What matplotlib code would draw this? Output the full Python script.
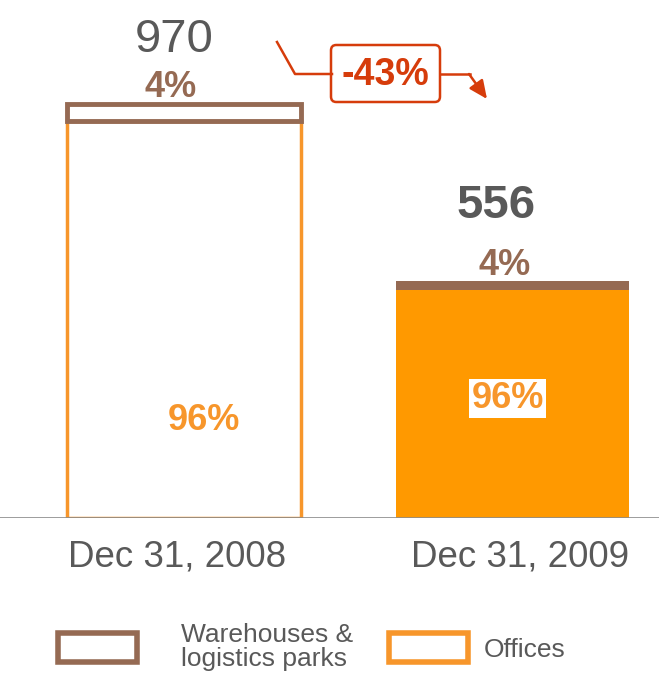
import matplotlib.pyplot as plt
from matplotlib.patches import Rectangle, FancyBboxPatch

plt.rcParams['font.family'] = ['Liberation Sans', 'DejaVu Sans']

dates = ["Dec 31, 2008", "Dec 31, 2009"]
totals = [970, 556]
warehouse_share = [4, 4]
office_share = [96, 96]
change_label = "-43%"
series = ["Warehouses &\nlogistics parks", "Offices"]

BROWN = "#956A53"
ORANGE = "#FF9900"
ORANGE_EDGE = "#F7962B"
GREY = "#595959"
RED = "#D63C0B"

fig = plt.figure(figsize=(6.59, 6.76), dpi=100)
ax = fig.add_axes([0, 158 / 676, 1, 518 / 676])
ax.set_xlim(-0.560, 1.446)
ax.set_ylim(0, 1214)
ax.axis("off")

x = [0, 1]
width = 0.712
offices = [t * s / 100 for t, s in zip(totals, office_share)]
wh = [t * s / 100 for t, s in zip(totals, warehouse_share)]

# 2008: outlined bars
ax.bar(x[0], offices[0], width, color="white", edgecolor=ORANGE_EDGE, linewidth=2.5)
ax.bar(x[0], wh[0], width, bottom=offices[0], color="white", edgecolor=BROWN, linewidth=3.5)
# 2009: filled bars
ax.bar(x[1], offices[1], width, color=ORANGE, edgecolor=ORANGE, linewidth=0)
ax.bar(x[1], wh[1], width, bottom=offices[1], color=BROWN, edgecolor=BROWN, linewidth=0)

ax.axhline(0, color="#8C8C8C", linewidth=1.2)

# totals
ax.text(x[0] - 0.03, totals[0] + 150, str(totals[0]), ha="center", va="center",
        fontsize=34, color=GREY)
ax.text(x[1] - 0.05, totals[1] + 175, str(totals[1]), ha="center", va="center",
        fontsize=34, color=GREY, fontweight="bold")

# share labels
ax.text(x[0] - 0.04, totals[0] + 40, f"{warehouse_share[0]}%", ha="center", va="center",
        fontsize=26, color=BROWN, fontweight="bold")
ax.text(x[1] - 0.025, totals[1] + 36, f"{warehouse_share[1]}%", ha="center", va="center",
        fontsize=26, color=BROWN, fontweight="bold")
ax.text(x[0] + 0.06, 228, f"{office_share[0]}%", ha="center", va="center",
        fontsize=26, color=ORANGE_EDGE, fontweight="bold")
ax.text(x[1] - 0.015, 280, f"{office_share[1]}%", ha="center", va="center",
        fontsize=26, color=ORANGE_EDGE, fontweight="bold",
        bbox=dict(facecolor="white", edgecolor="none", pad=1.5))

# category labels
for xi, d, dx in zip(x, dates, [-0.02, 0.022]):
    ax.text(xi + dx, -92, d, ha="center", va="center", fontsize=26.5, color=GREY)


def fx(px):
    return px / 659


def fy(py):
    return 1 - py / 676


# change arrow
fig.add_artist(plt.Line2D([fx(277), fx(295), fx(332)], [fy(42), fy(74), fy(74)],
                          color=RED, linewidth=1.8))
fig.add_artist(FancyBboxPatch((fx(331), fy(102)), fx(109), 57 / 676,
                              boxstyle="round,pad=0,rounding_size=0.008",
                              facecolor="white", edgecolor=RED, linewidth=1.8,
                              transform=fig.transFigure))
fig.text(fx(385), fy(75), change_label, ha="center", va="center", fontsize=27,
         color=RED, fontweight="bold")
fig.add_artist(plt.Line2D([fx(440), fx(470)], [fy(74), fy(74)], color=RED, linewidth=1.8))
ax.annotate("", xy=(fx(487), fy(99)), xytext=(fx(469), fy(74)),
            xycoords="figure fraction", textcoords="figure fraction",
            arrowprops=dict(arrowstyle="-|>,head_length=1.1,head_width=0.5",
                            color=RED, linewidth=1.8, shrinkA=0, shrinkB=0))

# legend
fig.add_artist(Rectangle((fx(58), fy(662)), fx(79), 29 / 676, facecolor="white",
                         edgecolor=BROWN, linewidth=4, transform=fig.transFigure))
fig.text(fx(181), fy(647), series[0], ha="left", va="center", fontsize=19,
         color=GREY, linespacing=1.05)
fig.add_artist(Rectangle((fx(389), fy(662)), fx(79), 29 / 676, facecolor="white",
                         edgecolor=ORANGE_EDGE, linewidth=4, transform=fig.transFigure))
fig.text(fx(484), fy(650), series[1], ha="left", va="center", fontsize=19, color=GREY)

fig.savefig("out.png", dpi=100)
